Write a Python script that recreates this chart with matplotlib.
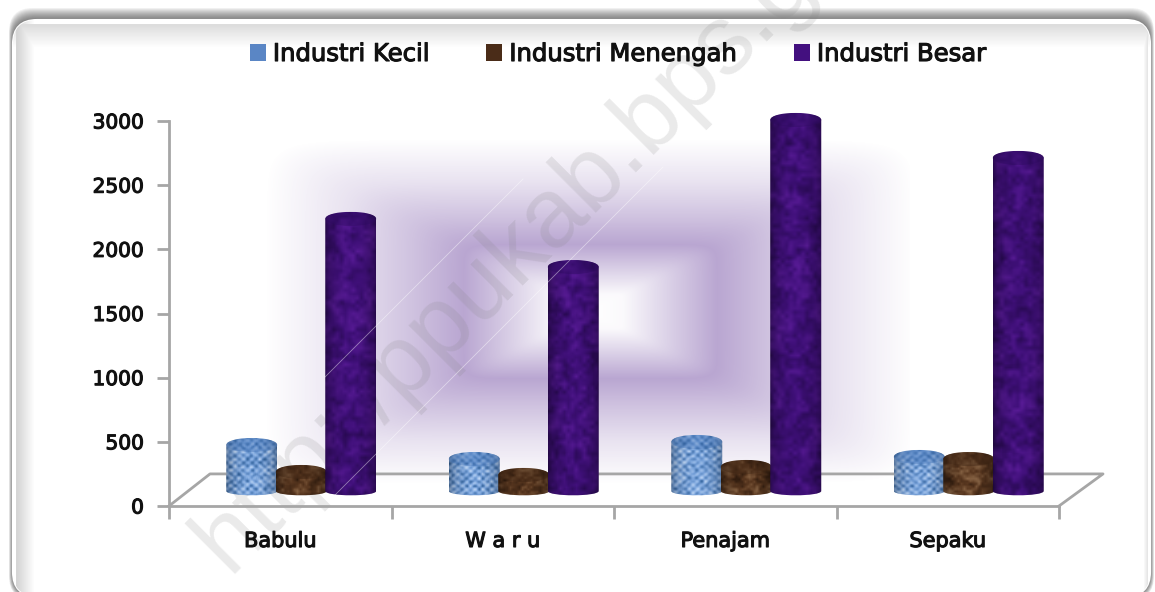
import numpy as np
import matplotlib
matplotlib.use('Agg')
import matplotlib.pyplot as plt
import matplotlib.patheffects as pe
from matplotlib.colors import LinearSegmentedColormap, to_rgb
from matplotlib.lines import Line2D
from matplotlib.patches import Ellipse, FancyBboxPatch, PathPatch, Patch
from matplotlib.path import Path

plt.rcParams['font.family'] = ['DejaVu Sans']

W, H = 1155, 592

categories = ['Babulu', 'W a r u', 'Penajam', 'Sepaku']
series_names = ['Industri Kecil', 'Industri Menengah', 'Industri Besar']
kecil = [358, 249, 382, 265]
menengah = [148, 125, 187, 249]
besar = [2120, 1745, 2891, 2595]
y_ticks = [0, 500, 1000, 1500, 2000, 2500, 3000]

# axes box in pixels (front plane of the 3d chart)
LEFT, RIGHT, TOP, BOTTOM = 169, 1059, 121, 506
CAT_PX = 222.5
DEPTH_X = 21 / CAT_PX  # category units
DEPTH_Y = 117          # value units
BAR_W = 51 / CAT_PX
BAR_STEP = 49.5 / CAT_PX
CAP_H = 110            # value units
FOOT_H = 45

blue_cm = LinearSegmentedColormap.from_list('b', ['#34659f', '#7aa4dc', '#c4dbf8'])
brown_cm = LinearSegmentedColormap.from_list('br', ['#2f1b0e', '#5a3820', '#8c6848'])
purple_cm = LinearSegmentedColormap.from_list('p', ['#2a0a55', '#40107a', '#5a1c98'])

HALO = [pe.withStroke(linewidth=0.8, foreground='#111111')]


def hash_noise(nx, ny, seed):
    y, x = np.mgrid[0:ny, 0:nx]
    v = np.sin(x * 12.9898 + y * 78.233 + seed) * 43758.5453
    return v - np.floor(v)


def soft_noise(nx, ny, cell, seed):
    # coarse noise stretched to nx by ny with linear steps
    coarse = hash_noise(nx // cell + 3, ny // cell + 3, seed)
    xs = np.arange(nx) / cell
    ys = np.arange(ny) / cell
    rows = np.array([np.interp(xs, np.arange(coarse.shape[1]), r) for r in coarse])
    return np.array([np.interp(ys, np.arange(rows.shape[0]), c) for c in rows.T]).T


def texture(kind, nx, ny, seed):
    y, x = np.mgrid[0:ny, 0:nx]
    if kind == 'blue':
        dots = 0.5 + 0.5 * np.cos(2 * np.pi * x / 8.5) * np.cos(2 * np.pi * y / 8.5)
        t = 0.5 * dots + 0.5 * soft_noise(nx, ny, 3, seed)
        cmap, low = blue_cm, 0.68
    elif kind == 'brown':
        t = 0.6 * soft_noise(nx, ny, 7, seed) + 0.4 * soft_noise(nx, ny, 3, seed + 1)
        cmap, low = brown_cm, 0.6
    else:
        t = 0.55 * soft_noise(nx, ny, 9, seed) + 0.45 * soft_noise(nx, ny, 4, seed + 1)
        cmap, low = purple_cm, 0.6
    t = np.clip((t - t.min()) / (t.max() - t.min()), 0, 1)
    rgb = cmap(t)[..., :3]
    u = (x + 0.5) / nx
    shade = low + (1 - low) * np.sin(np.pi * u) ** 0.55
    return rgb * shade[..., None]


def cylinder(ax, xc, val, kind, seed, zorder):
    x0, x1 = xc - BAR_W / 2, xc + BAR_W / 2
    base = DEPTH_Y
    top = base + val
    r = CAP_H / 2
    verts = [(x0, top), (x0, base), (x0, base - FOOT_H), (x1, base - FOOT_H), (x1, base), (x1, top),
             (x1, top + r * 1.33), (x0, top + r * 1.33), (x0, top)]
    codes = [Path.MOVETO, Path.LINETO, Path.CURVE4, Path.CURVE4, Path.CURVE4, Path.LINETO,
             Path.CURVE4, Path.CURVE4, Path.CURVE4]
    clip = PathPatch(Path(verts, codes), transform=ax.transData, fc='none', ec='none')
    ax.add_patch(clip)
    ny = int((val + CAP_H + FOOT_H) * 0.1283) + 2
    tex = texture(kind, 51, ny, seed)
    im = ax.imshow(tex, extent=(x0, x1, base - FOOT_H, top + r), aspect='auto',
                   origin='lower', zorder=zorder, interpolation='bilinear')
    im.set_clip_box(ax.figure.bbox)
    im.set_clip_path(clip)
    cap_color = {'blue': '#3f6fb2', 'brown': '#3a2212', 'purple': '#2b0a5c'}[kind]
    ax.add_patch(Ellipse((xc, top), BAR_W, CAP_H, fc=cap_color, ec='none', alpha=0.4,
                         zorder=zorder + 0.1, clip_on=False))


fig = plt.figure(figsize=(W / 100, H / 100), dpi=100)

# full-figure layer for frame, gradient and watermark
bg = fig.add_axes([0, 0, 1, 1])
bg.axis('off')

# shadow of the frame, strongest on top
for k in range(12, 0, -1):
    bg.add_patch(FancyBboxPatch((13 - k / 3, 20 - k), 1137 + 2 * k / 3, 576 + k + k / 3,
                                boxstyle='round,pad=0,rounding_size=24',
                                fc='#303030', ec='none', alpha=0.07, zorder=1))
panel = FancyBboxPatch((13, 20), 1137, 576, boxstyle='round,pad=0,rounding_size=24',
                       fc='white', ec='white', lw=1.5, zorder=2)
bg.add_patch(panel)

# inner shading along the top and left edges of the panel
py, px = np.mgrid[0:H, 0:W]
top_shade = 0.24 * np.clip(1 - (py - 25) / 22, 0, 1) * (py >= 24)
left_shade = 0.3 * np.clip(1 - (px - 17) / 17, 0, 1) * (px >= 16)
right_shade = 0.18 * np.clip(1 - (1147 - px) / 4, 0, 1) * (px <= 1147)
shade = np.zeros((H, W, 4))
shade[..., :3] = 0.45
shade[..., 3] = np.maximum(np.maximum(top_shade, left_shade), right_shade)
im_shade = bg.imshow(shade, extent=(0, W, H, 0), aspect='auto', zorder=3)
im_shade.set_clip_path(panel)

# rectangular gradient behind the plot
gx, gy = np.meshgrid(np.arange(250, 910), np.arange(135, 490))
p = 12
d = ((np.abs(gx - 590) / 325) ** p + (np.abs(gy - 311) / 172) ** p) ** (1 / p)
strength = np.interp(d, [0, 0.1, 0.26, 0.39, 0.55, 0.75, 1.0], [0.0, 0.04, 0.36, 0.62, 0.42, 0.2, 0.0])
rgba = np.zeros(gx.shape + (4,))
rgba[..., :3] = to_rgb('#8e6fb5')
rgba[..., 3] = strength
bg.imshow(rgba, extent=(250, 910, 490, 135), aspect='auto', zorder=4)
bg.set_xlim(0, W)
bg.set_ylim(H, 0)

bg.text(228, 574, 'http://ppukab.bps.go.id', rotation=45, rotation_mode='anchor', ha='left', va='baseline',
        family='Liberation Sans', fontsize=70.5, color='#808080', alpha=0.17, zorder=5)

# chart axes
ax = fig.add_axes([LEFT / W, 1 - BOTTOM / H, (RIGHT - LEFT) / W, (BOTTOM - TOP) / H])
ax.patch.set_alpha(0)
for s in ['top', 'right']:
    ax.spines[s].set_visible(False)
for s in ['left', 'bottom']:
    ax.spines[s].set_color('#a6a6a6')
    ax.spines[s].set_linewidth(2)
ax.set_yticks(y_ticks)
ax.set_xticks(range(len(categories) + 1))
ax.set_xticklabels([])
ax.tick_params(axis='both', length=9, width=2, color='#a6a6a6')
ax.tick_params(axis='y', pad=9, labelsize=14.5, labelcolor='#111111')
for lab in ax.get_yticklabels():
    lab.set_path_effects(HALO)
for i, c in enumerate(categories):
    ax.annotate(c, (i + 0.5, 0), xytext=(0, -35), textcoords='offset pixels', ha='center', va='center',
                fontsize=15, color='#111111', annotation_clip=False, path_effects=HALO)

# floor outline
ax.plot([0, 41 / CAT_PX, 4 + 44 / CAT_PX, 4], [0, 250, 250, 0], color='#a6a6a6', lw=2, clip_on=False, zorder=2)

series = [(kecil, 'blue'), (menengah, 'brown'), (besar, 'purple')]
for s, (vals, kind) in enumerate(series):
    for i, v in enumerate(vals):
        xc = i + 0.5 + DEPTH_X + (s - 1) * BAR_STEP
        cylinder(ax, xc, v, kind, 10 * s + i, 3 + s)
ax.set_xlim(0, len(categories))
ax.set_ylim(0, 3000)

# hairlines that cross the picture
for x0, y0, x1, y1 in [(325, 377, 523, 179), (333, 497, 663, 167)]:
    fig.add_artist(Line2D([x0 / W, x1 / W], [1 - y0 / H, 1 - y1 / H], color='white', lw=0.6, alpha=0.45, zorder=20))

# legend
handles = [Patch(fc='#5a86c5'), Patch(fc='#4a2c18'), Patch(fc='#43107f')]
leg = fig.legend(handles, series_names, ncol=3, frameon=False, loc='center', bbox_to_anchor=(618 / W, 1 - 54 / H),
                 fontsize=17.5, handlelength=0.66, handleheight=0.66, handletextpad=0.29, columnspacing=2.35,
                 labelcolor='#111111')
for t in leg.get_texts():
    t.set_path_effects(HALO)

fig.savefig('out.png', dpi=100)
